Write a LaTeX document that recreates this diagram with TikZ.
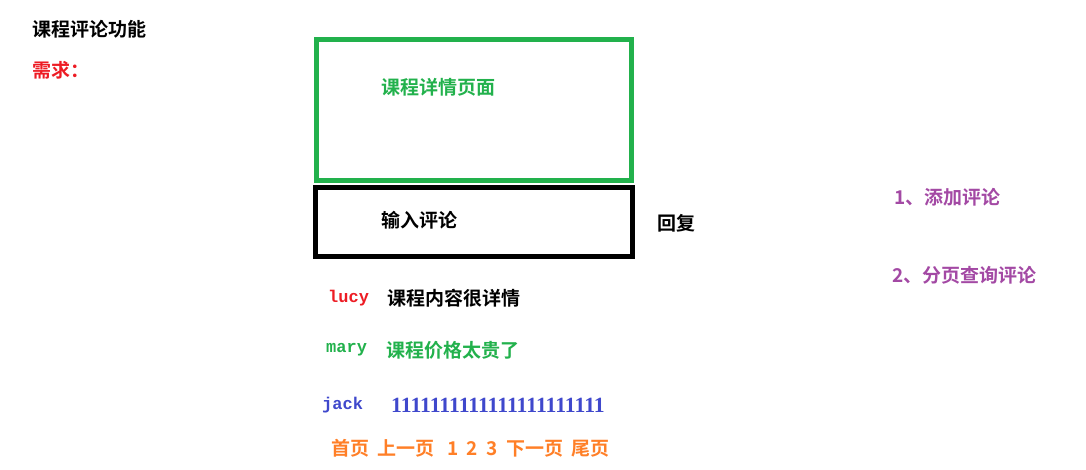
\documentclass[tikz,border=0pt]{standalone}
\usepackage{fontspec}
\newfontfamily\cjk{Noto Sans CJK SC}[BoldFont={* Bold}]
\newfontfamily\mono{Liberation Mono}
\newfontfamily\digit{Liberation Serif}
\definecolor{pgreen}{HTML}{22B14C}
\definecolor{pred}{HTML}{ED1C24}
\definecolor{pblue}{HTML}{3F48CC}
\definecolor{porange}{HTML}{FF7F27}
\definecolor{ppurple}{HTML}{A349A4}
\tikzset{
  txt/.style={anchor=west, inner sep=0pt, font=\cjk\bfseries\fontsize{19}{20}\selectfont},
  uname/.style={anchor=west, inner sep=0pt, font=\mono\bfseries\fontsize{17}{18}\selectfont},
  frame/.style={draw, line width=5pt, inner sep=0pt, outer sep=0pt, anchor=north west}
}
\begin{document}
\begin{tikzpicture}[x=1pt,y=-1pt]
\useasboundingbox (0,0) rectangle (1086,469);
% title and requirement
\node[txt] (title) at (32,29) {课程评论功能};
\node[txt, text=pred] (req) at (32,70) {需求：};
% boxes
\node[frame, draw=pgreen, minimum width=314.5pt, minimum height=141pt] (page) at (316.5,39.5) {};
\node[frame, draw=black, minimum width=316.5pt, minimum height=69pt] (input) at (315.5,187) {};
\node[txt, text=pgreen] (pagelbl) at (381,87) {课程详情页面};
\node[txt] (inputlbl) at (381,220) {输入评论};
\node[txt] (reply) at (657,223) {回复};
% comments
\node[uname, text=pred] (lucy) at (328,298) {lucy};
\node[txt] (c1) at (387,298) {课程内容很详情};
\node[uname, text=pgreen] (mary) at (326,350) {mary};
\node[txt, text=pgreen] (c2) at (386,350) {课程价格太贵了};
\node[uname, text=pblue] (jack) at (322,405) {jack};
\node[anchor=west, inner sep=0pt, text=pblue, font=\digit\bfseries\fontsize{21.7}{23}\selectfont] (c3) at (391,405) {1111111111111111111111};
% pager
\node[txt, text=porange] (pager) at (331,448) {首页\hspace{8pt}上一页\hspace{13pt}1\hspace{8pt}2\hspace{9pt}3\hspace{9pt}下一页\hspace{8pt}尾页};
% features
\node[txt, text=ppurple] (f1) at (894,197) {1、添加评论};
\node[txt, text=ppurple] (f2) at (892,275) {2、分页查询评论};
\end{tikzpicture}
\end{document}
